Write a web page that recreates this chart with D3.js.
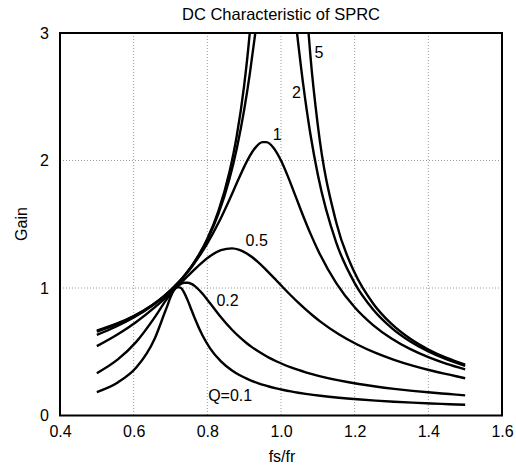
<!DOCTYPE html>
<html><head><meta charset="utf-8">
<script src="https://cdn.jsdelivr.net/npm/d3@7"></script>
<style>
body{margin:0;background:#fff;}
text{font-family:"Liberation Sans",Arial,Helvetica,sans-serif;}
</style></head><body>
<svg id="chart" width="516" height="472"></svg>
<script>
// frequency ratio samples (high-Q curves)
const fsfr = [0.5,0.55,0.6,0.65,0.68,0.7,0.71,0.72,0.73,0.74,0.75,0.76,0.78,0.8,0.83,0.86,0.88,0.9,0.915,0.93,0.95,0.96,0.98,1.0,1.02,1.04,1.06,1.08,1.1,1.15,1.2,1.25,1.3,1.35,1.4,1.45,1.5];
// frequency ratio samples (low-Q curves, read slightly to the right)
const fsfrLowQ = [0.5,0.557,0.607,0.657,0.687,0.707,0.717,0.727,0.737,0.747,0.757,0.767,0.787,0.807,0.837,0.867,0.887,0.907,0.922,0.937,0.957,0.967,0.987,1.007,1.027,1.047,1.067,1.087,1.107,1.157,1.207,1.257,1.307,1.357,1.407,1.457,1.5];
const gainQ01 = [0.1842,0.2596,0.3757,0.6024,0.8271,0.9709,1.0066,1.0035,0.9641,0.9008,0.8276,0.7546,0.6269,0.5285,0.4238,0.3528,0.3174,0.2886,0.2703,0.2543,0.2358,0.2276,0.2128,0.2,0.1887,0.1787,0.1698,0.1618,0.1546,0.1393,0.1269,0.1166,0.1080,0.1007,0.0943,0.0887,0.0838];
const gainQ02 = [0.3318,0.4398,0.5774,0.7694,0.9008,0.9780,1.0078,1.0292,1.0406,1.0414,1.0318,1.0131,0.9551,0.8825,0.7710,0.6724,0.6161,0.5670,0.5344,0.5050,0.4701,0.4543,0.4255,0.4,0.3773,0.3570,0.3388,0.3223,0.3073,0.2752,0.2491,0.2275,0.2092,0.1935,0.1800,0.1681,0.1576];
const gainQ05 = [0.5441,0.6373,0.7340,0.8479,0.9252,0.9800,1.0082,1.0367,1.0655,1.0942,1.1227,1.1506,1.2033,1.2491,1.2972,1.3111,1.2991,1.2711,1.2410,1.2049,1.1501,1.1208,1.0605,1.0,0.9410,0.8847,0.8317,0.7824,0.7366,0.6373,0.5565,0.4905,0.4362,0.3909,0.3527,0.3203,0.2924];
const gainQ1 = [0.6325,0.6942,0.7686,0.8612,0.9288,0.9803,1.0083,1.0378,1.0692,1.1024,1.1377,1.1752,1.2572,1.3496,1.5094,1.6931,1.8233,1.9498,2.0336,2.0991,2.1441,2.1445,2.0990,2.0,1.8659,1.7166,1.5671,1.4264,1.2986,1.0383,0.8488,0.7092,0.6039,0.5223,0.4577,0.4054,0.3625];
const gainQ2 = [0.6576,0.7110,0.7780,0.8647,0.9297,0.9804,1.0083,1.0381,1.0701,1.1045,1.1416,1.1816,1.2718,1.3787,1.5810,1.8549,2.0948,2.3969,2.6732,2.9948,3.4731,3.7062,4.0340,4.0,3.6108,3.0887,2.6026,2.2036,1.8880,1.3559,1.0382,0.8315,0.6878,0.5826,0.5026,0.4399,0.3895];
const gainQ5 = [0.6652,0.7159,0.7807,0.8656,0.9300,0.9804,1.0083,1.0382,1.0704,1.1051,1.1426,1.1834,1.2760,1.3872,1.6029,1.9092,2.1954,2.5894,2.9959,3.5541,4.7033,5.5640,8.1375,10.0,7.5043,5.0543,3.6527,2.8174,2.2759,1.5136,1.1188,0.8789,0.7183,0.6036,0.5178,0.4513,0.3983];
const seriesLabels = ["Q=0.1","0.2","0.5","1","2","5"];
const xTicks = [0.4,0.6,0.8,1.0,1.2,1.4,1.6];
const yTicks = [0,1,2,3];
const xGridVals = [0.6,0.8,1.0,1.2,1.4];
const yGridVals = [1,2];

const series = [
  {xs:fsfrLowQ, ys:gainQ01},{xs:fsfrLowQ, ys:gainQ02},{xs:fsfrLowQ, ys:gainQ05},
  {xs:fsfr, ys:gainQ1},{xs:fsfr, ys:gainQ2},{xs:fsfr, ys:gainQ5}];
// label anchor points in data coordinates
const labelAt = [[0.862,0.155],[0.855,0.906],[0.934,1.376],[0.990,2.208],[1.042,2.537],[1.103,2.851]];

const svg = d3.select("#chart");
const L=60,R=502,T=33,B=415.5;
const x = d3.scaleLinear().domain([0.4,1.6]).range([L,R]);
const y = d3.scaleLinear().domain([0,3]).range([B,T]);

svg.append("defs").append("clipPath").attr("id","clip")
  .append("rect").attr("x",L).attr("y",T).attr("width",R-L).attr("height",B-T);

// grid
svg.append("g").selectAll("line").data(xGridVals).join("line")
  .attr("x1",d=>x(d)).attr("x2",d=>x(d)).attr("y1",T).attr("y2",B)
  .attr("stroke","#9a9a9a").attr("stroke-width",1).attr("stroke-dasharray","1,2");
svg.append("g").selectAll("line").data(yGridVals).join("line")
  .attr("x1",L).attr("x2",R).attr("y1",d=>y(d)).attr("y2",d=>y(d))
  .attr("stroke","#9a9a9a").attr("stroke-width",1).attr("stroke-dasharray","1,2");

// curves
const line = d3.line().x(d=>x(d[0])).y(d=>y(d[1])).curve(d3.curveMonotoneX);
svg.append("g").attr("clip-path","url(#clip)").selectAll("path").data(series).join("path")
  .attr("d",s=>line(s.ys.map((v,i)=>[s.xs[i],v])))
  .attr("fill","none").attr("stroke","#000").attr("stroke-width",2.4)
  .attr("stroke-linejoin","round");

// frame
svg.append("rect").attr("x",L).attr("y",T).attr("width",R-L).attr("height",B-T)
  .attr("fill","none").attr("stroke","#000").attr("stroke-width",2);

// axes labels
const xAxis = svg.append("g").attr("transform",`translate(0,${B})`)
  .call(d3.axisBottom(x).tickValues(xTicks).tickFormat(d3.format(".1f")).tickSize(0).tickPadding(10));
const yAxis = svg.append("g").attr("transform",`translate(${L},0)`)
  .call(d3.axisLeft(y).tickValues(yTicks).tickFormat(d3.format("d")).tickSize(0).tickPadding(11));
[xAxis,yAxis].forEach(g=>{
  g.select(".domain").remove();
  g.selectAll("text").attr("font-size",16).attr("fill","#000")
   .attr("font-family","'Liberation Sans',Arial,sans-serif");
});

// series labels
svg.append("g").selectAll("text").data(seriesLabels).join("text")
  .attr("x",(d,i)=>x(labelAt[i][0])).attr("y",(d,i)=>y(labelAt[i][1]))
  .attr("dy","0.36em").attr("text-anchor","middle").attr("font-size",16).text(d=>d);

// titles
svg.append("text").attr("x",281).attr("y",20).attr("text-anchor","middle")
  .attr("font-size",16.5).text("DC Characteristic of SPRC");
svg.append("text").attr("x",282).attr("y",462).attr("text-anchor","middle")
  .attr("font-size",16).text("fs/fr");
svg.append("text").attr("transform","translate(26.5,224) rotate(-90)").attr("text-anchor","middle")
  .attr("font-size",16).text("Gain");
</script>
</body></html>
